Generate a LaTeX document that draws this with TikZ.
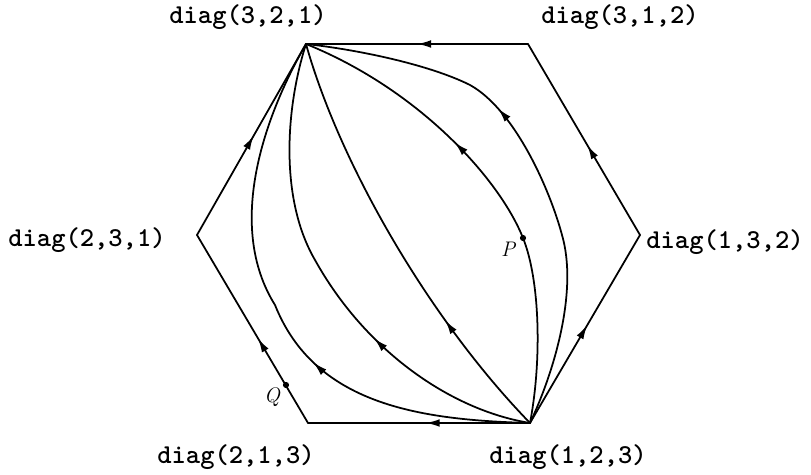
\documentclass[tikz,border=0pt]{standalone}
\usetikzlibrary{arrows.meta,decorations.markings}
\begin{document}
\begin{tikzpicture}[x=0.02cm,y=-0.02cm,
    every node/.style={inner sep=0pt},
    vlabel/.style={font=\fontsize{15.5}{18}\selectfont\ttfamily\bfseries},
    plabel/.style={font=\fontsize{12}{14}\selectfont\itshape},
    flow/.style={line width=1pt,line cap=round,line join=round,postaction={decorate},
      decoration={markings,mark=at position #1 with {\arrow{Latex[length=8pt,width=4.4pt]}}}},
    spot/.style={circle,fill,minimum size=3.5pt}]
    \useasboundingbox (0,0) rectangle (811,475);
    % vertices of the hexagon
    \coordinate (v321) at (306,44);
    \coordinate (v312) at (528,44);
    \coordinate (v132) at (640,235);
    \coordinate (v123) at (530,423);
    \coordinate (v213) at (308,423);
    \coordinate (v231) at (197,235);
    \node[vlabel] (l321) at (248,17) {diag(3,2,1)};
    \node[vlabel] (l312) at (620,17) {diag(3,1,2)};
    \node[vlabel] (l231) at (87,240) {diag(2,3,1)};
    \node[vlabel] (l132) at (725,242) {diag(1,3,2)};
    \node[vlabel] (l213) at (236,457) {diag(2,1,3)};
    \node[vlabel] (l123) at (568,457) {diag(1,2,3)};
    % edges
    \draw[flow=0.5] (v312)--(v321);
    \draw[flow=0.47] (v123)--(v213);
    \draw[flow=0.45] (v213)--(v231);
    \draw[flow=0.52] (v231)--(v321);
    \draw[flow=0.52] (v123)--(v132);
    \draw[flow=0.47] (v132)--(v312);
    % orbits from diag(1,2,3) to diag(3,2,1)
    \draw[flow=0.4] (v123) .. controls (420,420) and (315,405) .. (275,305)
        .. controls (225,225) and (265,115) .. (v321);
    \draw[flow=0.36] (v123) .. controls (450,410) and (365,350) .. (315,260)
        .. controls (280,200) and (285,110) .. (v321);
    \draw[flow=0.3] (v123) .. controls (430,320) and (340,165) .. (v321);
    \draw[flow=0.63] (v123) .. controls (542,360) and (540,280) .. (523,238)
        .. controls (500,180) and (420,90) .. (v321);
    \draw[flow=0.62] (v123) .. controls (555,370) and (578,290) .. (562,235)
        .. controls (550,190) and (515,110) .. (470,85)
        .. controls (430,65) and (360,50) .. (v321);
    % marked points
    \node[spot] (P) at (523,238) {};
    \node[plabel] (Plab) at (508,249) {P};
    \node[spot] (Q) at (286,385) {};
    \node[plabel] (Qlab) at (272,397) {Q};
\end{tikzpicture}
\end{document}
